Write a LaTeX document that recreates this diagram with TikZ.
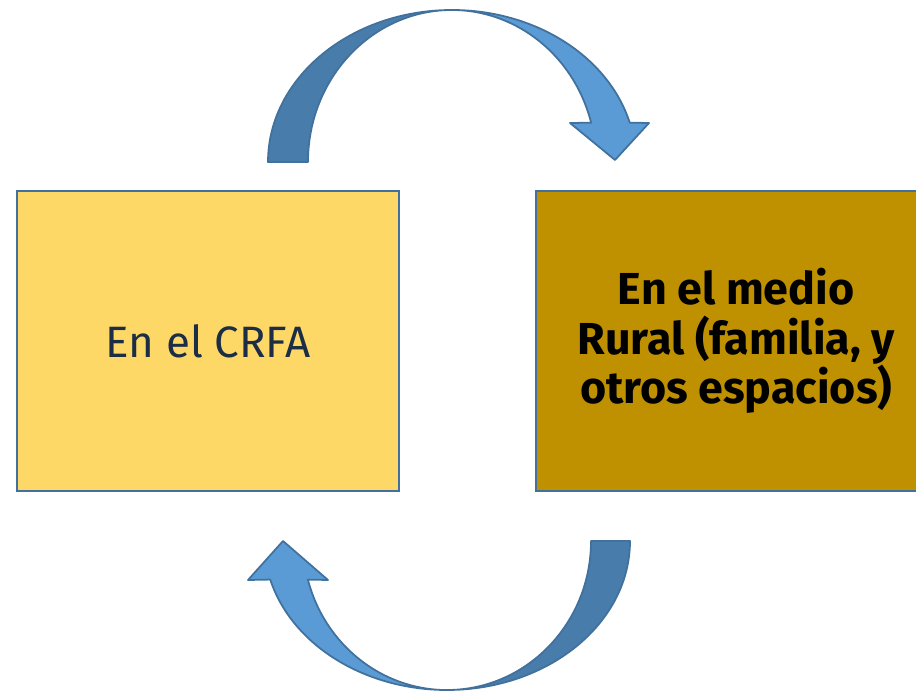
\documentclass[tikz,border=0pt]{standalone}
\usepackage{fontspec}
\setmainfont{Fira Sans}
\usetikzlibrary{positioning}
\definecolor{boxline}{HTML}{41719C}
\definecolor{crfafill}{HTML}{FED866}
\definecolor{ruralfill}{HTML}{BF9000}
\definecolor{crfatext}{HTML}{1B2E45}
\definecolor{arrowback}{HTML}{487CAB}
\definecolor{arrowfront}{HTML}{5B9BD5}

\begin{document}
\begin{tikzpicture}[
    x=0.02cm, y=0.02cm,
    every node/.style={align=center},
    box/.style={rectangle, draw=boxline, line width=1.3pt, minimum width=7.64cm, minimum height=6cm, inner sep=0pt},
    back/.style={fill=arrowback, draw=boxline, line width=1pt, line join=round},
    front/.style={fill=arrowfront, draw=boxline, line width=1pt, line join=round}
]
\path[use as bounding box, clip] (0,0) rectangle (916,693);

% Nodes
\node[box, fill=crfafill, text=crfatext, font=\fontsize{25}{30}\selectfont] (crfa) at (208,352) {En el CRFA};
\node[box, fill=ruralfill, minimum width=8cm, right=2.7cm of crfa, font=\bfseries\fontsize{25.5}{28}\selectfont] (rural) {En el medio\\Rural (familia, y\\otros espacios)};

% Arrows
\coordinate (topc) at (452,531);
\coordinate (botc) at (447,152);

\begin{scope}[shift={(topc)}]
\draw[back] (-184,0) arc[start angle=180, end angle=90, x radius=184, y radius=152]
    arc[start angle=90, end angle=180, x radius=144, y radius=152] -- cycle;
\draw[front] (0,152) arc[start angle=90, end angle=15, x radius=184, y radius=152]
    -- (197,39) -- (163,2) -- (118,39) -- (139.1,39.3)
    arc[start angle=15, end angle=90, x radius=144, y radius=152] -- cycle;
\end{scope}

\begin{scope}[shift={(botc)}]
\draw[back] (183,0) arc[start angle=0, end angle=-90, x radius=183, y radius=149]
    arc[start angle=-90, end angle=0, x radius=144, y radius=149] -- cycle;
\draw[front] (0,-149) arc[start angle=-90, end angle=-165, x radius=183, y radius=149]
    -- (-199,-39) -- (-164,0) -- (-119,-39) -- (-139.1,-38.6)
    arc[start angle=-165, end angle=-90, x radius=144, y radius=149] -- cycle;
\end{scope}

\end{tikzpicture}
\end{document}
